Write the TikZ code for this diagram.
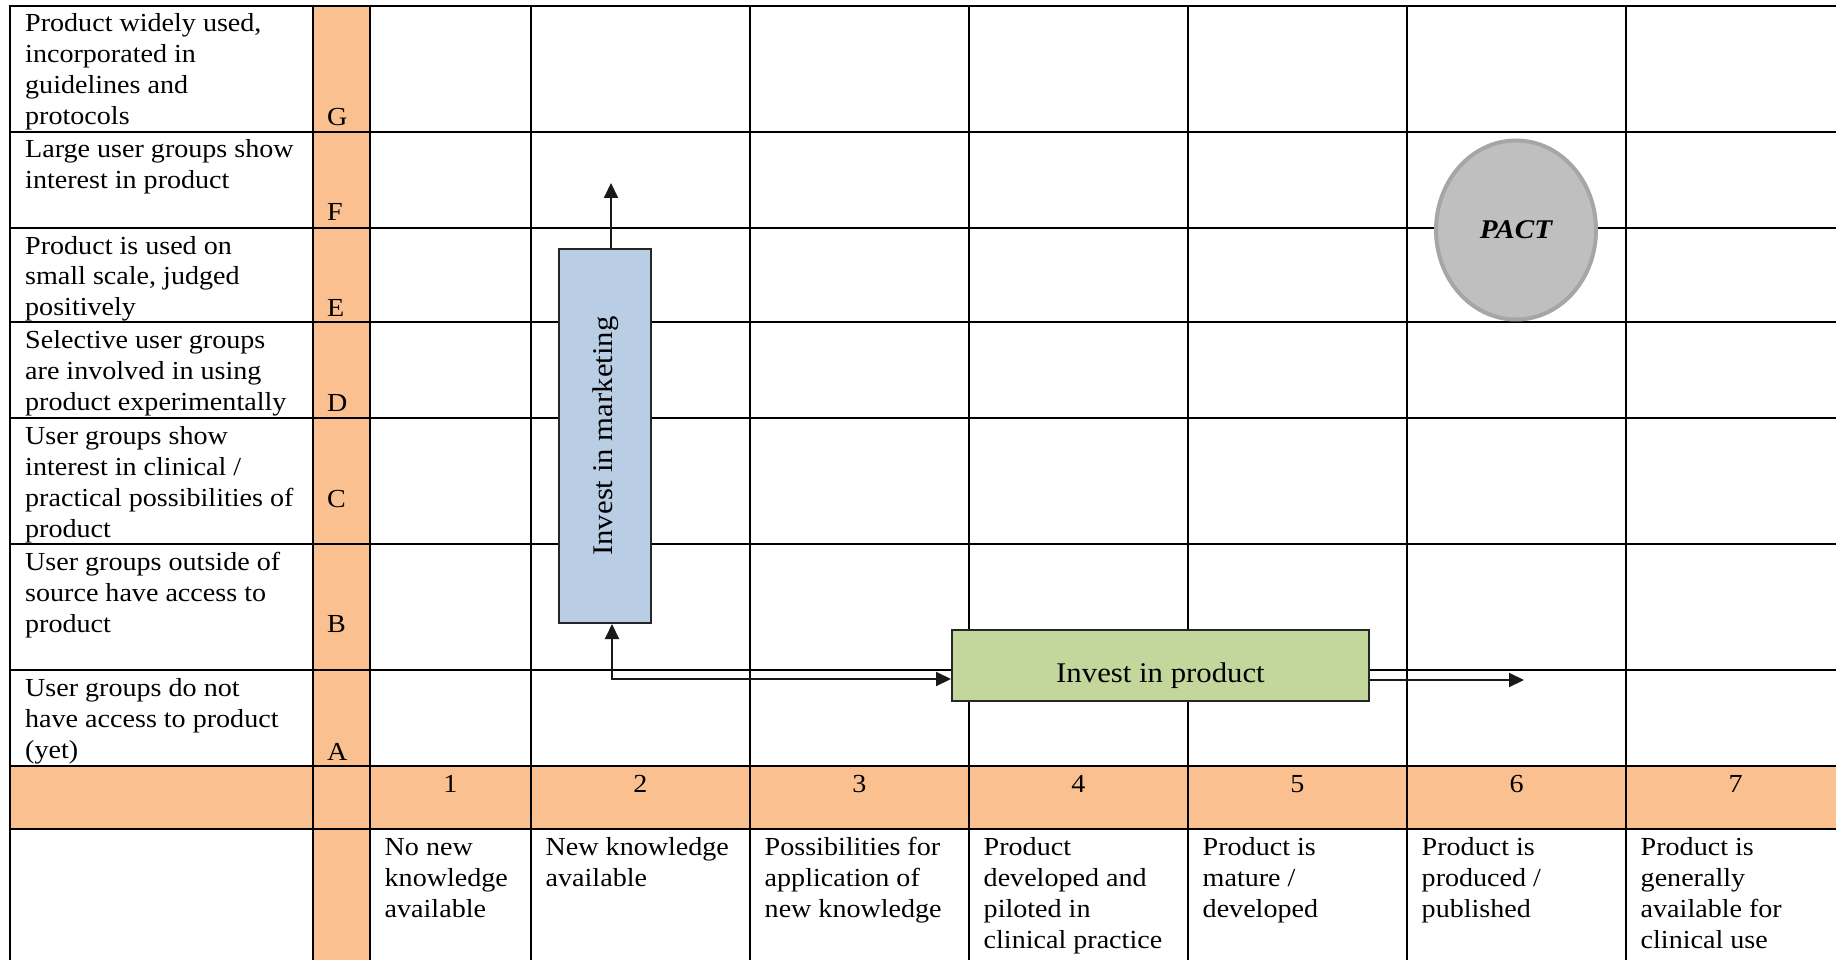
\documentclass[tikz,border=0pt]{standalone}
\usepackage{fontspec}
\setmainfont{Liberation Serif}[FakeStretch=1.08]
\usepackage{graphicx}
\usepackage{tikz}
\usetikzlibrary{shapes.geometric,arrows.meta,positioning,calc}

\definecolor{roworange}{HTML}{FAC08F}
\definecolor{mktblue}{HTML}{B9CDE5}
\definecolor{prodgreen}{HTML}{C3D69B}
\definecolor{pactgray}{HTML}{BFBFBF}
\definecolor{pactedge}{HTML}{A6A6A6}

\newcommand\tabfont{\fontsize{26}{31}\selectfont}
\newcommand\boxfont{\fontsize{28.5}{34}\selectfont}
\newcommand\celltext[1]{\parbox[t]{300pt}{\raggedright #1}}

\begin{document}
\begin{tikzpicture}[x=1pt,y=-1pt,
  grid/.style={line width=2.2pt,line cap=rect},
  cell/.style={anchor=base west,inner sep=0pt,font=\tabfont},
  num/.style={anchor=base,inner sep=0pt,font=\tabfont},
  box/.style={draw=black!85,line width=2pt,inner sep=0pt,font=\boxfont},
  link/.style={->,line width=2pt,draw=black!90},
  >={Triangle[length=15pt,width=14pt]},
]
  \useasboundingbox (0,0) rectangle (1836,960);
  \clip (0,0) rectangle (1836,960);
  \fill[roworange] (313,6) rectangle (370,1000);
  \fill[roworange] (10,766) rectangle (1845,829);
  \foreach \y in {6,132,228,322,418,544,670,766,829}
    \draw[grid] (10,\y) -- (1845,\y);
  \foreach \x in {10,313,370,531,750,969,1188,1407,1626,1845}
    \draw[grid] (\x,6) -- (\x,1000);

  \foreach \tag/\ytop/\ybase/\txt in {
    G/6/125.6/{Product widely used,\\incorporated in\\guidelines and\\protocols},
    F/132/220.5/{Large user groups show\\interest in product},
    E/228/316/{Product is used on\\small scale, judged\\positively},
    D/322/411/{Selective user groups\\are involved in using\\product experimentally},
    C/418/507/{User groups show\\interest in clinical /\\practical possibilities of\\product},
    B/544/632.5/{User groups outside of\\source have access to\\product},
    A/670/760/{User groups do not\\have access to product\\(yet)}}
  {
    \node[cell] (row\tag) at (25,\ytop+26) {\celltext{\txt}};
    \node[cell] (tag\tag) at (327,\ybase) {\tag};
  }

  \foreach \i/\xl/\xr/\txt in {
    1/370/531/{No new\\knowledge\\available},
    2/531/750/{New knowledge\\available},
    3/750/969/{Possibilities for\\application of\\new knowledge},
    4/969/1188/{Product\\developed and\\piloted in\\clinical practice},
    5/1188/1407/{Product is\\mature /\\developed},
    6/1407/1626/{Product is\\produced /\\published},
    7/1626/1845/{Product is\\generally\\available for\\clinical use}}
  {
    \node[num] (num\i) at ({(\xl+\xr)/2},792) {\i};
    \node[cell] (desc\i) at (\xl+14.5,855) {\celltext{\txt}};
  }

  \node[box,fill=mktblue,minimum width=92pt,minimum height=374pt] (mkt)
    at (605.2,436) {\rotatebox{90}{Invest in marketing}};
  \node[box,fill=prodgreen,minimum width=417pt,minimum height=71pt,
    text height=34pt,text depth=0pt] (prod) at (1160.5,665.5) {Invest in product};
  \node[ellipse,draw=pactedge,fill=pactgray,line width=4pt,minimum width=160pt,
    minimum height=179pt,inner sep=0pt,
    font=\fontsize{27}{32}\selectfont\bfseries\itshape] (pact) at (1516,230) {PACT};

  \coordinate (fork) at (612,679);
  \coordinate (mkttip) at (611,183);
  \coordinate (prodtip) at (1524,680);
  \draw[link,<->] (fork |- mkt.south) -- (fork) -- (fork -| prod.west);
  \draw[link] (mkttip |- mkt.north) -- (mkttip);
  \draw[link] (prodtip -| prod.east) -- (prodtip);
\end{tikzpicture}
\end{document}
